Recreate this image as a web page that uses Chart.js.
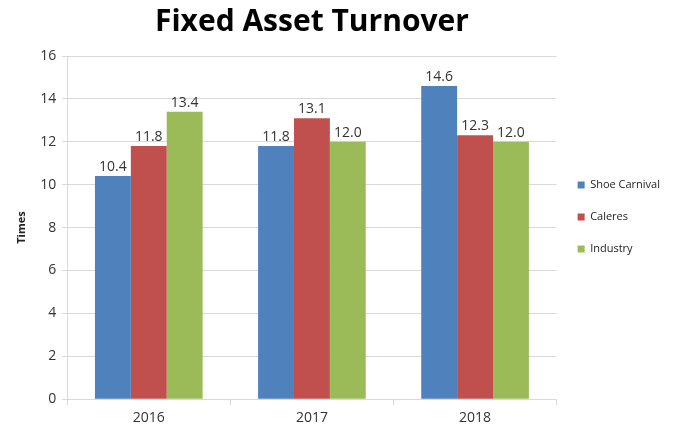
<!DOCTYPE html>
<html>
<head>
<meta charset="utf-8">
<script src="https://cdn.jsdelivr.net/npm/chart.js@4.4.1/dist/chart.umd.min.js"></script>
<style>
  html, body { margin: 0; padding: 0; background: #fff; }
  #wrap { width: 673px; height: 430px; }
</style>
</head>
<body>
<div id="wrap"><canvas id="myChart" width="673" height="430"></canvas></div>
<script>
// dados do grafico
var anos = ["2016", "2017", "2018"];
var shoeCarnival = [10.4, 11.8, 14.6];
var caleres = [11.8, 13.1, 12.3];
var industry = [13.4, 12.0, 12.0];
var yTicks = [0, 2, 4, 6, 8, 10, 12, 14, 16];

// escreve o valor acima de cada barra
var valoresPlugin = {
    id: 'valores',
    afterDatasetsDraw: function(chart){
        var ctx = chart.ctx;
        ctx.save();
        ctx.font = '14px "Open Sans", sans-serif';
        ctx.fillStyle = '#333';
        ctx.textAlign = 'center';
        ctx.textBaseline = 'bottom';
        chart.data.datasets.forEach(function(ds, i){
            var meta = chart.getDatasetMeta(i);
            meta.data.forEach(function(bar, j){
                ctx.fillText(ds.data[j].toFixed(1), bar.x, bar.y - 2);
            });
        });
        ctx.restore();
    }
};

var grafico = new Chart(document.getElementById('myChart'), {
    type: 'bar',
    data: {
        labels: anos,
        datasets: [
            { label: 'Shoe Carnival', data: shoeCarnival, backgroundColor: '#4F81BD' },
            { label: 'Caleres', data: caleres, backgroundColor: '#C0504D' },
            { label: 'Industry', data: industry, backgroundColor: '#9BBB59' }
        ]
    },
    options: {
        responsive: false,
        animation: false,
        categoryPercentage: 0.66,
        barPercentage: 1.0,
        layout: { padding: { left: 15, right: 3, top: 4, bottom: 0 } },
        plugins: {
            title: {
                display: true,
                text: 'Fixed Asset Turnover',
                fullSize: false,
                color: '#000',
                font: { family: '"Open Sans", sans-serif', size: 30, weight: 'bold' },
                padding: { top: 0, bottom: 16 }
            },
            legend: {
                position: 'right',
                labels: {
                    boxWidth: 7,
                    boxHeight: 7,
                    padding: 21,
                    color: '#222',
                    font: { family: '"Open Sans", sans-serif', size: 11 }
                }
            },
            tooltip: { enabled: false }
        },
        scales: {
            x: {
                grid: { display: true, drawOnChartArea: false, offset: true, tickLength: 6, color: '#d9d9d9' },
                border: { color: '#d9d9d9' },
                ticks: { color: '#333', font: { family: '"Open Sans", sans-serif', size: 14 }, padding: 4 }
            },
            y: {
                min: 0,
                max: 16,
                afterBuildTicks: function(axis){
                    axis.ticks = yTicks.map(function(v){ return { value: v }; });
                },
                title: {
                    display: true,
                    text: 'Times',
                    color: '#222',
                    font: { family: '"Open Sans", sans-serif', size: 11, weight: 'bold' },
                    padding: { top: 0, bottom: 6 }
                },
                grid: { color: '#d9d9d9', tickLength: 5 },
                border: { color: '#d9d9d9' },
                ticks: { color: '#333', font: { family: '"Open Sans", sans-serif', size: 14 }, padding: 6 }
            }
        }
    },
    plugins: [valoresPlugin]
});
</script>
</body>
</html>
